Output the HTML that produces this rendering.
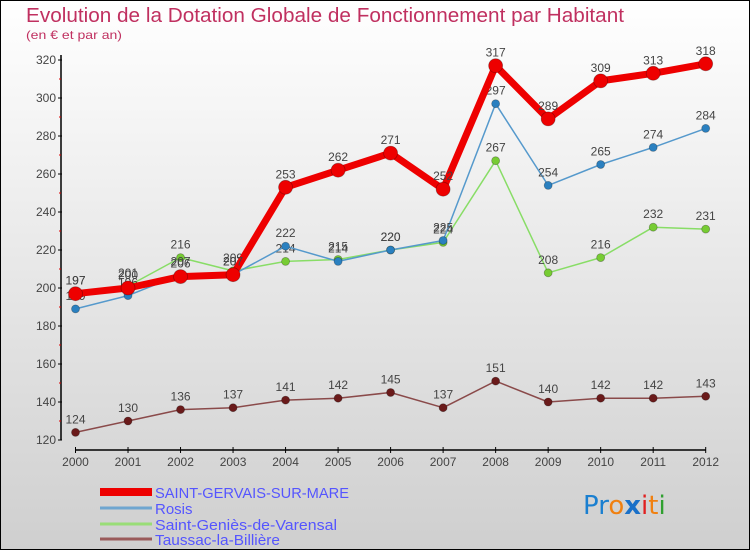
<!DOCTYPE html>
<html><head><meta charset="utf-8"><style>
body{margin:0;width:750px;height:550px;overflow:hidden;font-family:"Liberation Sans",sans-serif}
svg{display:block}
</style></head><body>
<svg width="750" height="550" id="chart">
<defs><linearGradient id="bg" x1="0" y1="0" x2="0" y2="1"><stop offset="0" stop-color="#ffffff"/><stop offset="1" stop-color="#cfcfcf"/></linearGradient></defs>
<rect x="0.5" y="0.5" width="749" height="549" fill="url(#bg)" stroke="#000"/>
<text x="26" y="22" font-size="20" textLength="598" lengthAdjust="spacingAndGlyphs" fill="#c03060">Evolution de la Dotation Globale de Fonctionnement par Habitant</text>
<text x="26" y="39" font-size="12" textLength="96" lengthAdjust="spacingAndGlyphs" fill="#c03060">(en € et par an)</text>
<g id="axes"></g><g id="series"></g>
<g font-size="15" fill="#5555ff">
<rect x="100" y="488" width="52" height="8" fill="#ee0000"/>
<text x="155" y="498" textLength="194" lengthAdjust="spacingAndGlyphs">SAINT-GERVAIS-SUR-MARE</text>
<line x1="100" y1="508" x2="152" y2="508" stroke="#6fa6d0" stroke-width="3"/>
<text x="155" y="514">Rosis</text>
<line x1="100" y1="524" x2="152" y2="524" stroke="#99dd77" stroke-width="3"/>
<text x="155" y="530" textLength="182" lengthAdjust="spacingAndGlyphs">Saint-Geniès-de-Varensal</text>
<line x1="100" y1="539" x2="152" y2="539" stroke="#9a5a5a" stroke-width="3"/>
<text x="155" y="545" textLength="125" lengthAdjust="spacingAndGlyphs">Taussac-la-Billière</text>
</g>
<text x="583" y="514" font-size="26" font-family="DejaVu Sans, sans-serif"><tspan fill="#1a7fd0">Pr</tspan><tspan fill="#f08010">o</tspan><tspan fill="#1a70c8" font-weight="bold">x</tspan><tspan fill="#e02020">i</tspan><tspan fill="#f08010">t</tspan><tspan fill="#30a030">i</tspan></text>
</svg>
<script>
const years=[2000,2001,2002,2003,2004,2005,2006,2007,2008,2009,2010,2011,2012];
const yTicks=[120,140,160,180,200,220,240,260,280,300,320];
const saintGervais=[197,200,206,207,253,262,271,252,317,289,309,313,318];
const rosis=[189,196,207,207,222,214,220,225,297,254,265,274,284];
const saintGenies=[197,201,216,209,214,215,220,224,267,208,216,232,231];
const taussac=[124,130,136,137,141,142,145,137,151,140,142,142,143];
const NS='http://www.w3.org/2000/svg';
function xS(i){return 75.5+i*(705.7-75.5)/(years.length-1);}
function yS(v){return 440-(v-120)*1.9;}
function mk(t,a,p){const e=document.createElementNS(NS,t);for(const k in a)e.setAttribute(k,a[k]);p.appendChild(e);return e;}
const ax=document.getElementById('axes');
const yl=mk('line',{x1:61,y1:55,x2:61,y2:440,stroke:'#000','stroke-width':1.5},ax);


const xl=mk('line',{x1:75,y1:450,x2:706,y2:450,stroke:'#000','stroke-width':1.5},ax);


yTicks.forEach((v,k)=>{
  mk('line',{x1:58,y1:yS(v),x2:62,y2:yS(v),stroke:'#000'},ax);
  if(k<yTicks.length-1) mk('line',{x1:59,y1:yS(v+10),x2:61,y2:yS(v+10),stroke:'#d00'},ax);
  const t=mk('text',{x:56,y:yS(v)+4,'text-anchor':'end','font-size':12,fill:'#444'},ax);t.textContent=v;
  
  
});
years.forEach((y,i)=>{
  mk('line',{x1:xS(i),y1:447,x2:xS(i),y2:453,stroke:'#000'},ax);
  const t=mk('text',{x:xS(i),y:466,'text-anchor':'middle','font-size':12,fill:'#444'},ax);t.textContent=y;
  
  
});
const sg=document.getElementById('series');
function draw(data,name,color,w,r,fill){
  const g=mk('g',{},sg);
  
  
  mk('polyline',{points:data.map((v,i)=>xS(i)+','+yS(v)).join(' '),fill:'none',stroke:color,'stroke-width':w,'stroke-linejoin':'round'},g);
  data.forEach((v,i)=>{
    const c=mk('circle',{cx:xS(i),cy:yS(v),r:r,fill:fill,stroke:'rgba(0,0,0,0.3)','stroke-width':0.8},g);
    
    
    const t=mk('text',{x:xS(i),y:yS(v)-9,'text-anchor':'middle','font-size':12,fill:'#444'},g);t.textContent=v;
  });
}
draw(taussac,'series-taussac','#8a4a4a',1.5,4,'#6a1a1a');
draw(saintGenies,'series-saint-genies','#88dd66',1.5,4,'#77cc33');
draw(rosis,'series-rosis','#5599cc',1.5,4,'#2a80c0');
draw(saintGervais,'series-saint-gervais','#ee0000',7,7,'#ee0000');
</script>
</body></html>
